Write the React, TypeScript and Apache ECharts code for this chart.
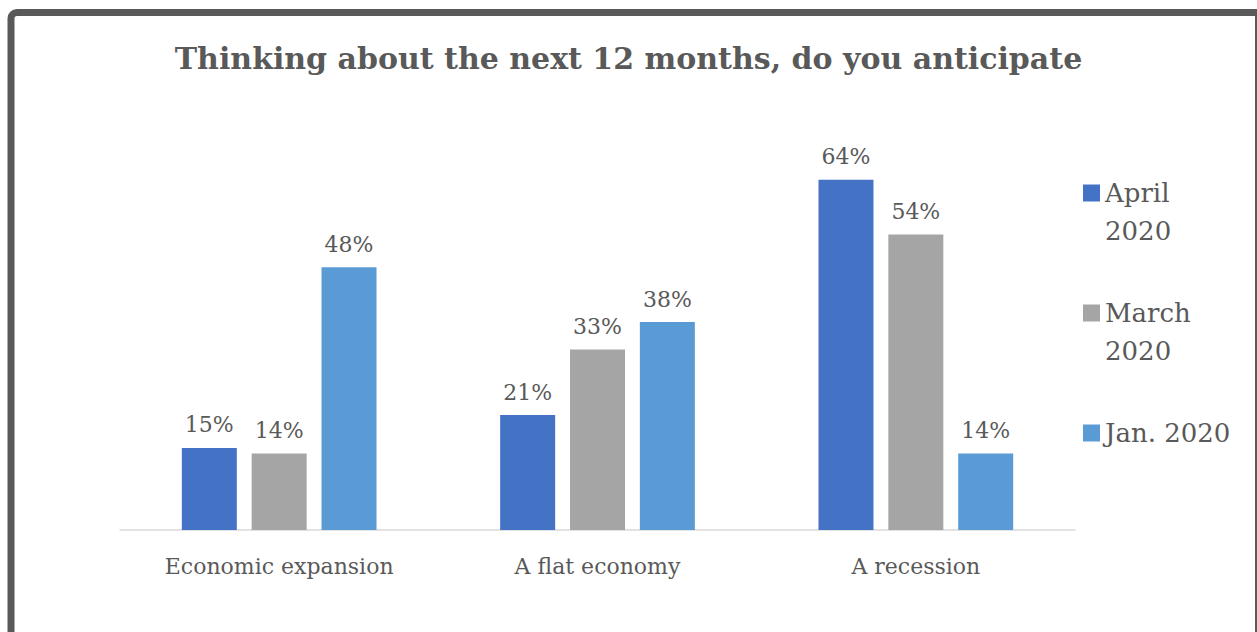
import React, { useEffect, useRef } from "react";
import * as echarts from "echarts";

const categories = ["Economic expansion", "A flat economy", "A recession"];
const april2020 = [15, 21, 64];
const march2020 = [14, 33, 54];
const jan2020 = [48, 38, 14];
const seriesNames = ["April 2020", "March 2020", "Jan. 2020"];
const colors = ["#4472C4", "#A5A5A5", "#5B9BD5"];
const title = "Thinking about the next 12 months, do you anticipate";

const FONT = "DejaVu Serif";
const TEXT = "#595959";

export default function App() {
  const ref = useRef<HTMLDivElement>(null);
  useEffect(() => {
    if (!ref.current) return;
    const chart = echarts.init(ref.current, null, { renderer: "svg" });
    const values = [april2020, march2020, jan2020];
    chart.setOption({
      animation: false,
      backgroundColor: "#ffffff",
      title: {
        text: title,
        left: "center",
        top: 38,
        textStyle: { fontFamily: FONT, fontWeight: "bold", fontSize: 30, color: TEXT },
      },
      graphic: [
        {
          type: "rect",
          shape: { x: 11, y: 12.5, width: 1247.5, height: 640, r: [6, 0, 0, 0] },
          style: { fill: "none", stroke: "#595959", lineWidth: 7 },
          z: 100,
        },
      ],
      legend: [
        {
          data: [seriesNames[0], seriesNames[1]],
          orient: "vertical",
          left: 1083,
          top: 136,
          padding: 0,
          itemWidth: 17,
          itemHeight: 17,
          itemGap: 6,
          icon: "rect",
          formatter: (n: string) => " \n" + n.replace(" ", "\n"),
          textStyle: { fontFamily: FONT, fontSize: 26, color: TEXT, lineHeight: 38 },
        },
        {
          data: [seriesNames[2]],
          orient: "vertical",
          left: 1083,
          top: 414,
          padding: 0,
          itemWidth: 17,
          itemHeight: 17,
          icon: "rect",
          textStyle: { fontFamily: FONT, fontSize: 26, color: TEXT, lineHeight: 38 },
        },
      ],
      grid: { left: 120, right: 182, top: 147, bottom: 102, containLabel: false },
      xAxis: {
        type: "category",
        data: categories,
        axisLine: { lineStyle: { color: "#D9D9D9", width: 1.5 } },
        axisTick: { show: false },
        axisLabel: { fontFamily: FONT, fontSize: 22, color: TEXT, margin: 25 },
      },
      yAxis: {
        type: "value",
        min: 0,
        max: 70,
        show: false,
        splitLine: { show: false },
      },
      series: seriesNames.map((name, i) => ({
        name,
        type: "bar",
        data: values[i],
        barWidth: 55,
        barGap: "27%",
        itemStyle: { color: colors[i] },
        label: {
          show: true,
          position: "top",
          distance: 12,
          formatter: "{c}%",
          fontFamily: FONT,
          fontSize: 22,
          color: TEXT,
        },
      })),
    });
    return () => chart.dispose();
  }, []);
  return (
    <div
      ref={ref}
      style={{ position: "fixed", left: 0, top: 0, width: 1257, height: 632 }}
    />
  );
}
